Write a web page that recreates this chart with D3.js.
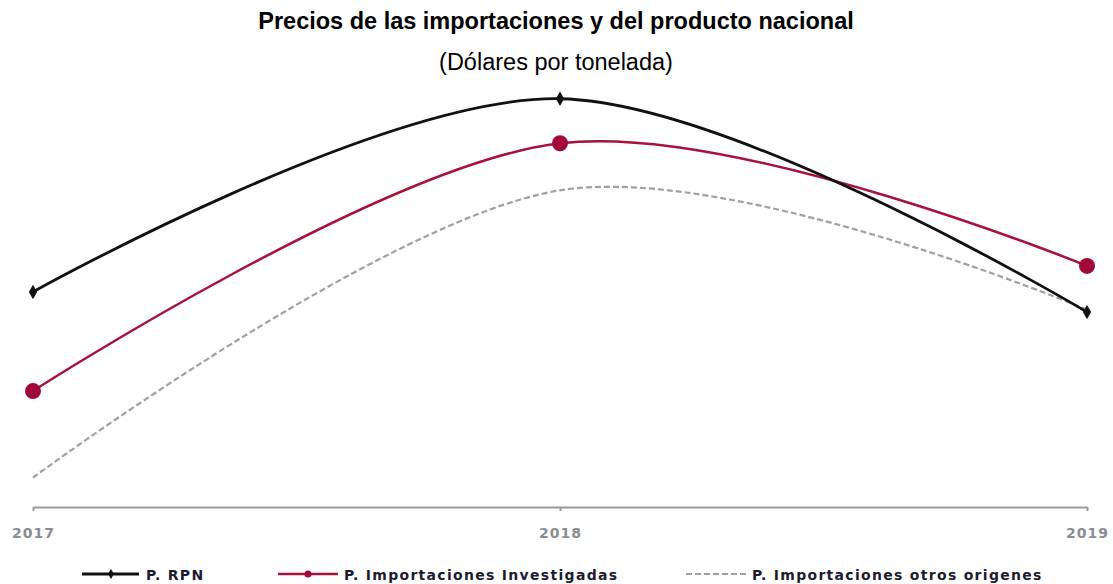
<!DOCTYPE html>
<html><head><meta charset="utf-8">
<script src="https://cdn.jsdelivr.net/npm/d3@7/dist/d3.min.js"></script>
<style>body{margin:0;background:#fff}svg{display:block}</style>
</head><body>
<svg id="c" width="1113" height="584"></svg>
<script>
const years = ["2017", "2018", "2019"];
const rpn = [756, 986, 732];
const investigadas = [638, 933, 787];
const otros = [535, 877, 735];
const seriesNames = ["P. RPN", "P. Importaciones Investigadas", "P. Importaciones otros origenes"];

const svg = d3.select("#c");
const x = d3.scalePoint().domain(years).range([33, 1087]);
const y = d3.scaleLinear().domain([500, 1000]).range([507, 87]);

svg.append("text").attr("x", 556).attr("y", 29).attr("text-anchor", "middle")
  .attr("font-family", "Liberation Sans, Arial, sans-serif").attr("font-weight", "bold")
  .attr("font-size", 23.5).attr("fill", "#000").text("Precios de las importaciones y del producto nacional");
svg.append("text").attr("x", 556).attr("y", 70).attr("text-anchor", "middle")
  .attr("font-family", "Liberation Sans, Arial, sans-serif")
  .attr("font-size", 23.5).attr("fill", "#000").text("(Dólares por tonelada)");

// axis
const ax = svg.append("g").attr("transform", "translate(0,507)")
  .call(d3.axisBottom(x).tickSize(4).tickPadding(17).tickSizeOuter(0));
ax.select(".domain").attr("stroke", "#999").attr("stroke-width", 2);
ax.selectAll(".tick line").attr("stroke", "#999").attr("stroke-width", 2);
ax.selectAll(".tick text").attr("font-family", "DejaVu Sans, Verdana, sans-serif")
  .attr("font-weight", "bold").attr("font-size", 14).attr("fill", "#8a8c94").attr("letter-spacing", 1);

const line = d3.line().x((d, i) => x(years[i])).y(d => y(d)).curve(d3.curveCatmullRom.alpha(0));

svg.append("path").datum(otros).attr("d", line).attr("fill", "none")
  .attr("stroke", "#a0a0a0").attr("stroke-width", 2.2).attr("stroke-dasharray", "6,3");
svg.append("path").datum(investigadas).attr("d", line).attr("fill", "none")
  .attr("stroke", "#a8113c").attr("stroke-width", 2.5);
svg.append("path").datum(rpn).attr("d", line).attr("fill", "none")
  .attr("stroke", "#111").attr("stroke-width", 2.8);

const diamond = d3.symbol().type(d3.symbolDiamond).size(60);
svg.selectAll(".rp").data(rpn).join("path").attr("d", diamond)
  .attr("transform", (d, i) => `translate(${x(years[i])},${y(d)})`).attr("fill", "#111");
svg.selectAll(".iv").data(investigadas).join("circle")
  .attr("cx", (d, i) => x(years[i])).attr("cy", d => y(d)).attr("r", 8).attr("fill", "#a0093a");

// legend
const lg = svg.append("g").attr("font-family", "DejaVu Sans, Verdana, sans-serif")
  .attr("font-weight", "bold").attr("font-size", 14).attr("fill", "#1c1c30").attr("letter-spacing", 1.3);
const ly = 574;
lg.append("line").attr("x1", 82).attr("x2", 139).attr("y1", ly).attr("y2", ly).attr("stroke", "#111").attr("stroke-width", 2.8);
lg.append("path").attr("d", d3.symbol().type(d3.symbolDiamond).size(30)).attr("transform", `translate(111,${ly})`).attr("fill", "#111");
lg.append("text").attr("x", 146).attr("y", ly + 5.5).text(seriesNames[0]);
lg.append("line").attr("x1", 278).attr("x2", 338).attr("y1", ly).attr("y2", ly).attr("stroke", "#a8113c").attr("stroke-width", 2.5);
lg.append("circle").attr("cx", 308).attr("cy", ly).attr("r", 3.5).attr("fill", "#a0093a");
lg.append("text").attr("x", 344).attr("y", ly + 5.5).text(seriesNames[1]);
lg.append("line").attr("x1", 686).attr("x2", 746).attr("y1", ly).attr("y2", ly).attr("stroke", "#a0a0a0").attr("stroke-width", 2.2).attr("stroke-dasharray", "6,3");
lg.append("text").attr("x", 752).attr("y", ly + 5.5).text(seriesNames[2]);
</script>
</body></html>
